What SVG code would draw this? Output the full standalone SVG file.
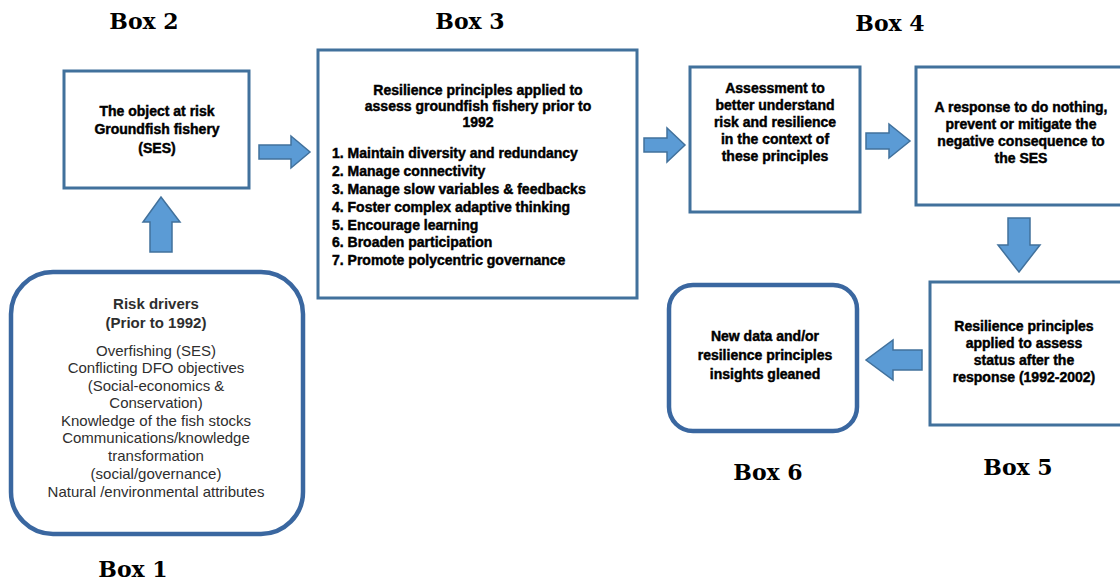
<svg xmlns="http://www.w3.org/2000/svg" width="1120" height="584" viewBox="0 0 1120 584">
  <style>
    .box { fill: #ffffff; stroke: #41719c; stroke-width: 3; }
    .rbox { fill: #ffffff; stroke: #3a67a0; stroke-width: 4.5; }
    .arrow { fill: #5b9bd5; stroke: #41719c; stroke-width: 1.5; stroke-linejoin: miter; }
    .label { font-family: "DejaVu Serif", "Liberation Serif", serif; font-weight: bold; font-size: 22px; fill: #000; text-anchor: middle; }
    .t { font-family: "Liberation Sans", Arial, sans-serif; font-weight: bold; font-size: 14px; fill: #000; stroke: #000; stroke-width: 0.45; }
    .c { text-anchor: middle; }
    .drv { font-family: "Liberation Sans", Arial, sans-serif; font-size: 15px; fill: #2e2e2e; text-anchor: middle; }
    .drvb { font-weight: bold; }
  </style>

  <rect width="1120" height="584" fill="#ffffff"/>

  <!-- captions -->
  <g id="captions">
    <text class="label" x="144" y="29">Box 2</text>
    <text class="label" x="470" y="29">Box 3</text>
    <text class="label" x="890" y="31">Box 4</text>
    <text class="label" x="133" y="577">Box 1</text>
    <text class="label" x="1018" y="475">Box 5</text>
    <text class="label" x="768" y="480">Box 6</text>
  </g>

  <!-- Box 1: risk drivers -->
  <g id="box1">
    <rect class="rbox" x="11" y="272" width="292" height="262" rx="42"/>
    <text class="drv drvb" x="156" y="309">Risk drivers</text>
    <text class="drv drvb" x="156" y="328">(Prior to 1992)</text>
    <text class="drv" x="156" y="356">Overfishing (SES)</text>
    <text class="drv" x="156" y="373">Conflicting DFO objectives</text>
    <text class="drv" x="156" y="391">(Social-economics &amp;</text>
    <text class="drv" x="156" y="408">Conservation)</text>
    <text class="drv" x="156" y="426">Knowledge of the fish stocks</text>
    <text class="drv" x="156" y="443">Communications/knowledge</text>
    <text class="drv" x="156" y="461">transformation</text>
    <text class="drv" x="156" y="479">(social/governance)</text>
    <text class="drv" x="156" y="497">Natural /environmental attributes</text>
  </g>

  <!-- Box 2: object at risk -->
  <g id="box2">
    <rect class="box" x="64" y="71" width="185" height="117"/>
    <text class="t c" x="157" y="116" font-size="15.5">The object at risk</text>
    <text class="t c" x="157" y="134" font-size="15.5">Groundfish fishery</text>
    <text class="t c" x="157" y="153" font-size="15.5">(SES)</text>
  </g>

  <!-- Box 3: principles before 1992 -->
  <g id="box3">
    <rect class="box" x="318" y="50" width="319" height="248"/>
    <text class="t c" x="478" y="95" font-size="15.5">Resilience principles applied to</text>
    <text class="t c" x="478" y="111" font-size="15.5">assess  groundfish fishery prior to</text>
    <text class="t c" x="478" y="127" font-size="15.5">1992</text>
    <text class="t" x="332" y="158" font-size="14.8">1. Maintain diversity and redundancy</text>
    <text class="t" x="332" y="176" font-size="14.8">2. Manage connectivity</text>
    <text class="t" x="332" y="194" font-size="14.8">3. Manage slow variables &amp; feedbacks</text>
    <text class="t" x="332" y="212" font-size="14.8">4. Foster complex adaptive thinking</text>
    <text class="t" x="332" y="230" font-size="14.8">5. Encourage learning</text>
    <text class="t" x="332" y="247" font-size="14.8">6. Broaden participation</text>
    <text class="t" x="332" y="265" font-size="14.8">7. Promote  polycentric governance</text>
  </g>

  <!-- Box 4: assessment -->
  <g id="box4a">
    <rect class="box" x="690" y="67" width="170" height="145"/>
    <text class="t c" x="775" y="93" font-size="15">Assessment to</text>
    <text class="t c" x="775" y="110" font-size="15">better understand</text>
    <text class="t c" x="775" y="127" font-size="15">risk and resilience</text>
    <text class="t c" x="775" y="144" font-size="15">in the context of</text>
    <text class="t c" x="775" y="161" font-size="15">these principles</text>
  </g>

  <!-- Box 4: response -->
  <g id="box4b">
    <rect class="box" x="916" y="67" width="210" height="138"/>
    <text class="t c" x="1021" y="112" font-size="14.5">A response to do nothing,</text>
    <text class="t c" x="1021" y="129" font-size="14.5">prevent or mitigate the</text>
    <text class="t c" x="1021" y="146" font-size="14.5">negative consequence to</text>
    <text class="t c" x="1021" y="163" font-size="14.5">the SES</text>
  </g>

  <!-- Box 5: principles after response -->
  <g id="box5">
    <rect class="box" x="930" y="282" width="196" height="143"/>
    <text class="t c" x="1024" y="331" font-size="14.8">Resilience principles</text>
    <text class="t c" x="1024" y="348" font-size="14.8">applied to assess</text>
    <text class="t c" x="1024" y="365" font-size="14.8">status after the</text>
    <text class="t c" x="1024" y="382" font-size="14.8">response (1992-2002)</text>
  </g>

  <!-- Box 6: insights -->
  <g id="box6">
    <rect class="rbox" x="669" y="285" width="188" height="146" rx="24"/>
    <text class="t c" x="765" y="341" font-size="14">New data and/or</text>
    <text class="t c" x="765" y="360" font-size="14">resilience principles</text>
    <text class="t c" x="765" y="379" font-size="14">insights gleaned</text>
  </g>

  <!-- block arrows between boxes -->
  <g id="connectors">
    <!-- Box 1 up to Box 2 -->
    <polygon class="arrow" points="150,252 150,222 143,222 161,197 180,222 172,222 172,252"/>
    <!-- Box 2 to Box 3 -->
    <polygon class="arrow" points="259,145 291,145 291,136 310,152 291,168 291,159 259,159"/>
    <!-- Box 3 to Box 4 -->
    <polygon class="arrow" points="644,138 667,138 667,128 685,145 667,162 667,152 644,152"/>
    <!-- assessment to response -->
    <polygon class="arrow" points="866,133 889,133 889,124 910,141 889,158 889,149 866,149"/>
    <!-- response down to Box 5 -->
    <polygon class="arrow" points="1008,218 1030,218 1030,245 1040,245 1019,272 998,245 1008,245"/>
    <!-- Box 5 to Box 6 -->
    <polygon class="arrow" points="922,350 893,350 893,340 866,360 893,380 893,370 922,370"/>
  </g>
</svg>
